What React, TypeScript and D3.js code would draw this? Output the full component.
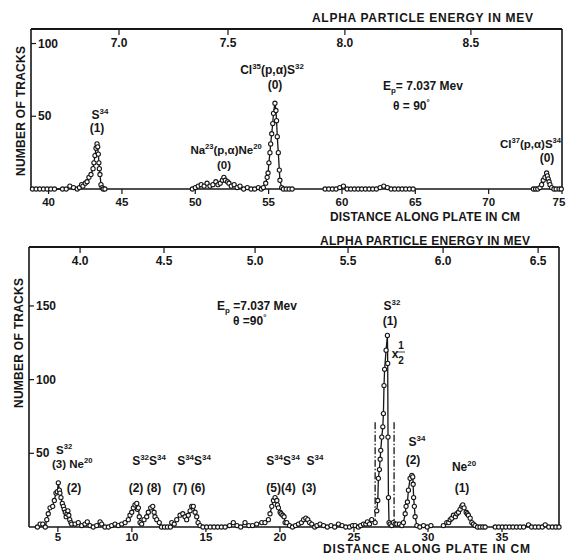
import React from 'react'
import * as d3 from 'd3'

type Pt = [number, number]
type Part = [string, ('sup' | 'sub')?]

// ---- upper run: distance along plate (cm) vs number of tracks
const topLeft: Pt[] = [[38.9,0],[39.15,0],[39.4,0],[39.65,0],[39.9,0],[40.15,0],[40.4,0],[40.95,0],[41.2,0],[41.45,2],[41.7,1],[41.95,0]]
const topS34: Pt[] = [[42.1,1],[42.25,3],[42.34,2],[42.5,4],[42.62,5],[42.75,8],[42.89,10],[43.03,14],[43.09,18],[43.16,23],[43.23,28],[43.3,31],[43.35,29],[43.39,24],[43.43,18],[43.46,14],[43.5,10],[43.57,3],[43.65,1],[43.72,0],[43.84,0]]
const topNa: Pt[] = [[49.8,0],[50.0,1],[50.2,2],[50.4,3],[50.6,2],[50.8,4],[51.0,2],[51.2,3],[51.4,5],[51.55,3],[51.7,4],[51.85,6],[51.95,8],[52.05,6],[52.2,5],[52.3,4],[52.45,2],[52.65,3],[52.85,1],[53.05,2],[53.3,0],[53.55,1],[53.8,0],[54.05,0],[54.3,1],[54.5,0]]
const topCl35: Pt[] = [[54.64,1],[54.8,4],[54.9,8],[54.96,11],[55.02,18],[55.09,25],[55.14,31],[55.21,38],[55.28,45],[55.33,52],[55.43,59],[55.5,54],[55.54,47],[55.59,36],[55.66,25],[55.73,13],[55.77,6],[55.89,1],[56.0,0],[56.2,0],[56.4,0],[56.6,0]]
const topMid: Pt[] = [[58.85,0],[59.1,0],[59.35,0],[59.6,0],[59.85,1],[60.1,2],[60.35,0],[60.6,0],[60.85,0],[61.1,0],[61.35,0],[61.6,0],[61.85,0],[62.1,0],[62.35,0],[62.6,1],[62.85,2],[63.1,1],[63.35,0],[63.6,0],[63.85,0],[64.1,0],[64.35,0],[64.6,0],[64.85,0]]
const topCl37: Pt[] = [[73.05,0],[73.2,0],[73.35,0],[73.5,1],[73.61,3],[73.72,6],[73.84,8],[73.95,11],[74.0,9],[74.06,7],[74.12,5],[74.18,3],[74.29,1],[74.45,0],[74.6,0],[74.8,0],[74.95,0]]

const topXTicks = [40, 45, 50, 55, 60, 65, 70, 75]
const topYTicks = [50, 100]
const topEnergyLabels = ['7.0', '7.5', '8.0', '8.5']
const topEnergyAt = [44.8, 52.23, 60.2, 68.79]

// ---- lower run
const botA: Pt[] = [[3.62,0],[3.8,2],[3.98,2],[4.15,0],[4.25,5],[4.35,9],[4.47,13],[4.65,14],[4.76,18],[4.87,23],[4.96,24],[5.03,30],[5.1,25],[5.14,23],[5.21,20],[5.3,16],[5.37,14],[5.43,12],[5.5,10],[5.56,7],[5.62,9],[5.68,11],[5.74,8],[5.8,5],[5.88,3]]
const botB: Pt[] = [[5.93,2],[6.16,2],[6.38,3],[6.61,1],[6.83,2],[6.99,3.5],[7.17,1],[7.39,0],[7.62,1],[7.85,3.5],[7.96,2],[8.18,0],[8.41,0],[8.63,1],[8.86,2],[9.08,1],[9.31,2],[9.54,3]]
const botC: Pt[] = [[9.76,5],[9.87,8],[9.99,10],[10.1,13],[10.21,15],[10.33,16],[10.37,12],[10.44,13],[10.5,7],[10.55,3],[10.66,2],[10.82,5],[11.0,7],[11.11,10],[11.27,13],[11.41,14],[11.5,10],[11.56,7],[11.68,5],[11.85,3],[12.0,0],[12.2,0],[12.4,0],[12.6,0]]
const botD: Pt[] = [[12.69,3],[12.86,2],[13.03,5],[13.25,8],[13.44,9],[13.59,7],[13.7,5],[13.81,8],[13.93,11],[14.04,14],[14.15,14],[14.27,10],[14.38,7],[14.47,3],[14.6,1]]
const botE: Pt[] = [[14.8,0],[15.05,0],[15.3,0],[15.55,0],[15.8,0],[16.05,0],[16.3,0],[16.6,1],[16.85,3],[17.1,1],[17.35,0],[17.64,3],[17.9,1],[18.15,1],[18.43,2],[18.77,3],[18.99,3],[19.22,5]]
const botF: Pt[] = [[19.33,9],[19.45,14],[19.56,18],[19.67,20],[19.79,18],[19.83,15],[19.9,13],[20.01,10],[20.08,9],[20.19,8],[20.28,7],[20.35,3],[20.46,3],[20.65,1],[20.85,0],[21.05,1],[21.25,2],[21.45,3],[21.6,5],[21.75,6],[21.88,5],[22.0,3],[22.15,2]]
const botG: Pt[] = [[22.35,0],[22.5,1],[22.71,2],[22.95,1],[23.2,0],[23.45,1],[23.7,0],[23.95,2],[24.2,1],[24.45,0],[24.7,0],[24.9,1],[25.08,1],[25.3,0],[25.45,1],[25.64,2],[25.8,2],[25.91,3.5],[26.05,2],[26.2,5],[26.43,3]]
const botS32: Pt[] = [[26.54,11],[26.61,18],[26.65,33],[26.72,39],[26.77,46],[26.81,52],[26.88,61],[26.95,68],[26.99,77],[27.03,96],[27.07,107],[27.17,120],[27.26,130],[27.28,111],[27.3,61],[27.33,20],[27.37,3],[27.44,2],[27.55,1],[27.66,3],[27.78,2],[27.89,2],[28.07,2],[28.23,1]]
const botS34: Pt[] = [[28.34,3],[28.46,9],[28.52,14],[28.61,17],[28.68,25],[28.79,33],[28.91,35],[28.97,34],[29.0,29],[29.03,20],[29.08,14],[29.13,7],[29.25,1],[29.45,0],[29.7,1],[29.95,0],[30.2,1]]
const botNe: Pt[] = [[31.04,1],[31.27,3],[31.4,3],[31.5,5],[31.61,6],[31.72,8],[31.85,7],[31.95,9],[32.06,10],[32.17,12],[32.28,14],[32.35,15],[32.44,13],[32.58,10],[32.65,9],[32.73,8],[32.85,6],[32.96,3],[33.07,2],[33.18,1],[33.35,0],[33.52,0],[33.7,0],[33.86,0]]
const botEnd: Pt[] = [[34.54,0],[34.78,0],[35.02,0],[35.26,0],[35.5,0],[35.74,0],[35.98,0],[36.22,0],[36.46,0],[36.79,1.5],[37.0,0],[37.24,0],[37.48,0],[37.72,0],[37.92,1.5],[38.16,0],[38.4,0],[38.64,0],[38.85,0]]

const botXTicks = [5, 10, 15, 20, 25, 30, 35]
const botYTicks = [50, 100, 150]
const botEnergyLabels = ['4.0', '4.5', '5.0', '5.5', '6.0', '6.5']
const botEnergyAt = [6.5, 12.17, 18.32, 24.6, 31.02, 37.44]
const cutLinesAt = [26.43, 27.71]

const FONT = "'Liberation Sans', Arial, sans-serif"
const INK = '#161616'
const W = 566

function Rich({ x, y, parts, anchor = 'middle', size = 12 }: { x: number, y: number, parts: Part[], anchor?: string, size?: number }) {
  let shift = 0
  return (
    <text x={x} y={y} textAnchor={anchor} fontSize={size} fontWeight="bold">
      {parts.map(([t, k], i) => {
        const target = k === 'sup' ? -5 : k === 'sub' ? 3 : 0
        const dy = target - shift
        shift = target
        return <tspan key={i} dy={dy} fontSize={k ? size * 0.66 : size}>{t}</tspan>
      })}
    </text>
  )
}

function Panel(p: any) {
  const x = d3.scaleLinear().domain(p.xDomain).range([p.left, p.right])
  const y = d3.scaleLinear().domain([0, p.yMax]).range([p.bottom, p.top])
  const line = d3.line<Pt>().x(d => x(d[0])).y(d => y(d[1]))
  const pts: Pt[] = p.segments.flat()
  return (
    <g>
      <line x1={p.left} x2={p.right} y1={p.top} y2={p.top} stroke={INK} strokeWidth={2} />
      <line x1={p.left} x2={p.left} y1={p.top} y2={p.bottom} stroke={INK} strokeWidth={1.6} />
      <line x1={p.right} x2={p.right} y1={p.top} y2={p.bottom} stroke={INK} strokeWidth={1.6} />
      <line x1={p.left} x2={p.right} y1={p.bottom} y2={p.bottom} stroke={INK} strokeWidth={1.4} />
      {p.xTicks.map((t: number) => (
        <g key={t}>
          <line x1={x(t)} x2={x(t)} y1={p.bottom} y2={p.bottom + 5} stroke={INK} strokeWidth={1.2} />
          {/* keep the last label inside the page */}
          <text x={Math.min(x(t), W - 7)} y={p.tickLabelY} textAnchor="middle" fontSize={11.5} fontWeight="bold">{t}</text>
        </g>
      ))}
      {p.yTicks.map((t: number) => (
        <g key={t}>
          <line x1={p.left} x2={p.left + 5} y1={y(t)} y2={y(t)} stroke={INK} strokeWidth={1.2} />
          <text x={p.left + 7} y={y(t) + 4} fontSize={12} fontWeight="bold">{t}</text>
        </g>
      ))}
      {p.eLabels.map((t: string, i: number) => (
        <g key={t}>
          <line x1={x(p.eAt[i])} x2={x(p.eAt[i])} y1={p.top} y2={p.top + 6} stroke={INK} strokeWidth={1.2} />
          <text x={x(p.eAt[i])} y={p.top + 18} textAnchor="middle" fontSize={12} fontWeight="bold">{t}</text>
        </g>
      ))}
      <text x={p.titleX} y={p.titleY} fontSize={12} fontWeight="bold" textLength={p.titleW} lengthAdjust="spacing">ALPHA PARTICLE ENERGY IN MEV</text>
      <text x={p.xLabelX} y={p.xLabelY} fontSize={12} fontWeight="bold" textLength={p.xLabelW} lengthAdjust="spacing">DISTANCE ALONG PLATE IN CM</text>
      <text transform={`translate(${p.left - 6},${p.yLabelY}) rotate(-90)`} textAnchor="middle" fontSize={12} fontWeight="bold" textLength={130} lengthAdjust="spacing">NUMBER OF TRACKS</text>
      {p.extra ? p.extra(x, y) : null}
      {p.segments.map((s: Pt[], i: number) => (
        <path key={i} d={line(s) ?? ''} fill="none" stroke={INK} strokeWidth={1.3} />
      ))}
      {pts.map((d, i) => (
        <circle key={i} cx={x(d[0])} cy={y(d[1])} r={2.1} fill="#fff" stroke={INK} strokeWidth={1.1} />
      ))}
    </g>
  )
}

export default function App() {
  return (
    <svg width={566} height={556} style={{ position: 'absolute', left: 0, top: 0, background: '#fff' }}
      fontFamily={FONT} fill={INK}>
      <Panel left={31} right={562} top={29} bottom={189} xDomain={[38.8, 75]} yMax={110}
        segments={[topLeft, topS34, topNa, topCl35, topMid, topCl37]}
        xTicks={topXTicks} yTicks={topYTicks} eLabels={topEnergyLabels} eAt={topEnergyAt}
        tickLabelY={206} titleX={312} titleY={22} titleW={221}
        xLabelX={330} xLabelY={221} xLabelW={190} yLabelY={111} />
      <Panel left={29} right={559} top={247} bottom={527} xDomain={[3.05, 38.85]} yMax={190}
        segments={[botA, botB, botC, botD, botE, botF, botG, botS32, botS34, botNe, botEnd]}
        xTicks={botXTicks} yTicks={botYTicks} eLabels={botEnergyLabels} eAt={botEnergyAt}
        tickLabelY={541} titleX={320} titleY={245} titleW={210}
        xLabelX={323} xLabelY={553} xLabelW={207} yLabelY={343}
        extra={(x: any, y: any) => cutLinesAt.map(c => (
          <line key={c} x1={x(c)} x2={x(c)} y1={y(71)} y2={y(2)} stroke={INK} strokeWidth={1.3} strokeDasharray="7,2,1.5,2" />
        ))} />

      {/* upper run annotations */}
      <Rich x={100} y={119} parts={[['S'], ['34', 'sup']]} />
      <Rich x={97} y={132} parts={[['(1)']]} />
      <Rich x={226} y={154} size={11.5} parts={[['Na'], ['23', 'sup'], ['(p,α)Ne'], ['20', 'sup']]} />
      <Rich x={224} y={169} size={11.5} parts={[['(0)']]} />
      <Rich x={272} y={74} parts={[['Cl'], ['35', 'sup'], ['(p,α)S'], ['32', 'sup']]} />
      <Rich x={275} y={89} parts={[['(0)']]} />
      <Rich x={383} y={90} anchor="start" parts={[['E'], ['p', 'sub'], ['= 7.037  Mev']]} />
      <Rich x={393} y={110} anchor="start" parts={[['θ = 90'], ['°', 'sup']]} />
      <Rich x={561} y={148} anchor="end" size={11.5} parts={[['Cl'], ['37', 'sup'], ['(p,α)S'], ['34', 'sup']]} />
      <Rich x={547} y={162} parts={[['(0)']]} />

      {/* lower run annotations */}
      <Rich x={217} y={310} anchor="start" parts={[['E'], ['p', 'sub'], [' =7.037  Mev']]} />
      <Rich x={233} y={325} anchor="start" parts={[['θ =90'], ['°', 'sup']]} />
      <Rich x={392} y={310} parts={[['S'], ['32', 'sup']]} />
      <Rich x={390} y={325} parts={[['(1)']]} />
      <text x={395} y={358} textAnchor="middle" fontSize={12} fontWeight="bold">x</text>
      <text x={401} y={349} textAnchor="middle" fontSize={10} fontWeight="bold">1</text>
      <line x1={397} x2={405} y1={352} y2={352} stroke={INK} strokeWidth={0.8} />
      <text x={401} y={364} textAnchor="middle" fontSize={10} fontWeight="bold">2</text>
      <Rich x={417} y={446} parts={[['S'], ['34', 'sup']]} />
      <Rich x={413} y={464} parts={[['(2)']]} />
      <Rich x={464} y={471} parts={[['Ne'], ['20', 'sup']]} />
      <Rich x={462} y={492} parts={[['(1)']]} />
      <Rich x={56} y={454} anchor="start" size={11.5} parts={[['S'], ['32', 'sup']]} />
      <Rich x={52} y={468} anchor="start" size={11.5} parts={[['(3) Ne'], ['20', 'sup']]} />
      <Rich x={74} y={492} parts={[['(2)']]} />
      <Rich x={149} y={465} parts={[['S'], ['32', 'sup'], ['S'], ['34', 'sup']]} />
      <Rich x={145} y={492} parts={[['(2) (8)']]} />
      <Rich x={194} y={465} parts={[['S'], ['34', 'sup'], ['S'], ['34', 'sup']]} />
      <Rich x={189} y={492} parts={[['(7) (6)']]} />
      <Rich x={283} y={465} parts={[['S'], ['34', 'sup'], ['S'], ['34', 'sup']]} />
      <Rich x={315} y={465} parts={[['S'], ['34', 'sup']]} />
      <Rich x={281} y={492} parts={[['(5)(4)']]} />
      <Rich x={309} y={492} parts={[['(3)']]} />
    </svg>
  )
}
